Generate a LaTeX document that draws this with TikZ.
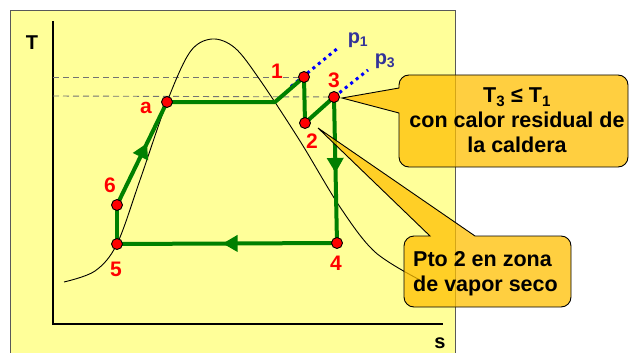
\documentclass[tikz,border=0pt]{standalone}
\usepackage{fontspec}
\setmainfont{Liberation Sans}
\usetikzlibrary{arrows.meta,decorations.markings}
\definecolor{bgyellow}{RGB}{255,255,153}
\definecolor{cgreen}{RGB}{0,128,0}
\definecolor{calloutc}{RGB}{255,192,0}
\definecolor{pblue}{RGB}{51,51,153}
\definecolor{dotblue}{RGB}{0,0,255}
\begin{document}
\begin{tikzpicture}[x=1pt,y=-1pt,
  lbl/.style={text=red,font=\fontsize{21}{21}\selectfont\bfseries,inner sep=0pt},
  plbl/.style={text=pblue,font=\fontsize{20}{20}\selectfont\bfseries,inner sep=0pt},
  axlbl/.style={text=black,font=\fontsize{20}{20}\selectfont\bfseries,inner sep=0pt},
  ptdot/.style={circle,fill=red,draw=black,line width=0.9pt,minimum size=11pt,inner sep=0pt},
  cyc/.style={draw=cgreen,line width=4pt,line cap=round,line join=round},
  midarrow/.style={postaction={decorate},decoration={markings,mark=at position #1 with {\arrow{Triangle[length=15pt,width=16pt]}}}},
  dashg/.style={draw=black!55,dash pattern=on 6pt off 4pt,line width=0.9pt},
  isob/.style={draw=dotblue,line width=3pt,dash pattern=on 3pt off 4pt},
  callbox/.style={fill=calloutc,fill opacity=0.75,draw=black,line width=0.9pt},
  ctext/.style={font=\fontsize{21.5}{25}\selectfont\bfseries,inner sep=0pt,text=black}
]
\useasboundingbox (0,0) rectangle (629,353);
\clip (0,0) rectangle (629,353);
\fill[white] (0,0) rectangle (629,353);
% frame
\draw[fill=bgyellow,draw=black!65,line width=1pt] (10,11) rectangle (455,370);
% axes
\coordinate (ytop) at (53,21);
\coordinate (orig) at (53,324);
\coordinate (xend) at (443,324);
\draw[line width=1.8pt] (ytop) -- (orig) -- (xend);
\node[axlbl] (lT) at (32,43) {T};
\node[axlbl] (ls) at (440,343.5) {s};
% state points
\coordinate (c1) at (304,77);
\coordinate (c2) at (305,123);
\coordinate (c3) at (334,97);
\coordinate (c4) at (337,243);
\coordinate (c5) at (117,244);
\coordinate (c6) at (117,205);
\coordinate (ca) at (167,102);
\coordinate (cb) at (275,102);
% dashed isotherms
\coordinate (d1) at (53,77);
\coordinate (d3) at (53,96);
\draw[dashg] (d1) -- (c1);
\draw[dashg] (d3) -- (c3);
% saturation dome
\draw[black,line width=0.9pt] plot[smooth,tension=0.55] coordinates {(64,282) (95,271) (117,244) (140,180) (167,102) (190,52) (212,39) (235,48) (260,80) (300,141) (340,207) (375,252) (420,280)};
% isobars
\coordinate (p1s) at (291,86.5);
\coordinate (p1e) at (338,48);
\coordinate (p3e) at (368,70);
\draw[isob] (p1s) -- (p1e);
\draw[isob] (c3) -- (p3e);
% cycle
\draw[cyc] (c5) -- (c6);
\draw[cyc,midarrow=0.6] (c6) -- (ca);
\draw[cyc] (ca) -- (cb) -- (c1) -- (c2) -- (c3);
\draw[cyc,midarrow=0.52] (c3) -- (c4);
\draw[cyc,midarrow=0.52] (c4) -- (c5);
% dots
\node[ptdot] (n1) at (c1) {};
\node[ptdot] (n2) at (c2) {};
\node[ptdot] (n3) at (c3) {};
\node[ptdot] (n4) at (c4) {};
\node[ptdot] (n5) at (c5) {};
\node[ptdot] (n6) at (c6) {};
\node[ptdot] (na) at (ca) {};
% labels
\node[lbl] (l1) at (277,71) {1};
\node[lbl] (l2) at (312,141) {2};
\node[lbl] (l3) at (334,80) {3};
\node[lbl] (l4) at (336,263) {4};
\node[lbl] (l5) at (116,269) {5};
\node[lbl] (l6) at (110,185) {6};
\node[lbl] (la) at (146,108) {a};
\node[plbl] (lp1) at (358,40) {p\textsubscript{1}};
\node[plbl] (lp3) at (385,61) {p\textsubscript{3}};
% callouts
\path[callbox] (399,113) -- (399,157) arc[start angle=180,end angle=90,radius=10] -- (618,167) arc[start angle=90,end angle=0,radius=10] -- (628,85) arc[start angle=0,end angle=-90,radius=10] -- (409,75) arc[start angle=270,end angle=180,radius=10] -- (399,88) -- (342,98) -- cycle;
\path[callbox] (430,236) -- (318,128) -- (475,236) -- (561,236) arc[start angle=-90,end angle=0,radius=10] -- (571,297) arc[start angle=0,end angle=90,radius=10] -- (414,307) arc[start angle=90,end angle=180,radius=10] -- (404,246) arc[start angle=180,end angle=270,radius=10] -- cycle;
\node[ctext,align=center,anchor=north] (t1) at (517,88) {T\textsubscript{3} ≤ T\textsubscript{1}\\con calor residual de\\la caldera};
\node[ctext,align=left,anchor=north west] (t2) at (413,251.5) {Pto 2 en zona\\de vapor seco};
\end{tikzpicture}
\end{document}
